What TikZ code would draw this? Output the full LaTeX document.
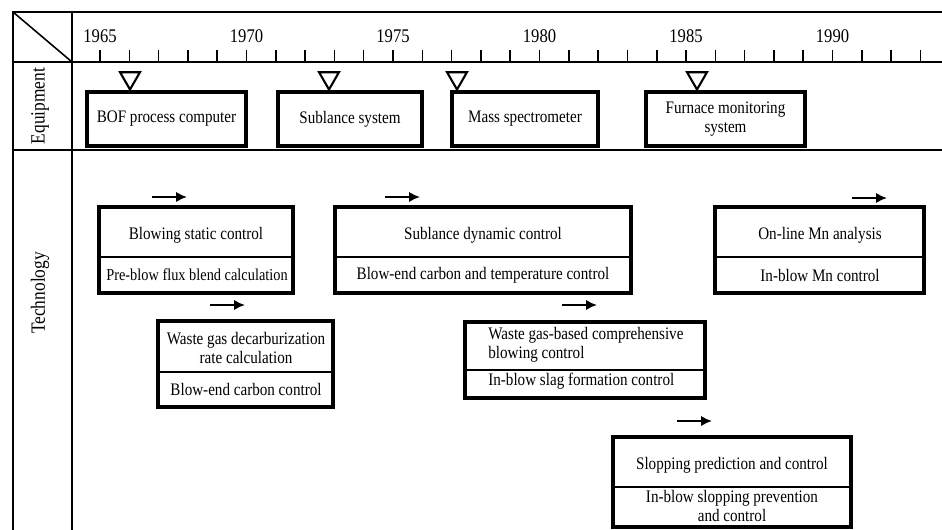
\documentclass[tikz,border=0pt]{standalone}
\usepackage{fontspec}
\setmainfont{Liberation Serif}[FakeStretch=0.86]
\usetikzlibrary{arrows.meta,positioning,shapes.geometric,fit,calc}
\tikzset{
  frame/.style={line width=0.9pt},
  equip/.style={draw,line width=2.1pt,minimum height=1.08cm,align=center,
    inner sep=0pt},
  techbox/.style={draw,line width=2.1pt,inner sep=0pt},
  techtext/.style={align=center,inner sep=0pt},
  divider/.style={line width=0.7pt},
  marker/.style={draw,line width=1.2pt,regular polygon,regular polygon sides=3,
    shape border rotate=180,minimum size=0.46cm,inner sep=0pt},
  yearlabel/.style={font=\fontsize{11}{12}\selectfont},
  sidelabel/.style={rotate=90,font=\fontsize{11.5}{12}\selectfont},
  arrow/.style={-{Latex[length=0.22cm,width=0.21cm]},line width=1.5pt}
}

\begin{document}
\begin{tikzpicture}[x=0.02cm,y=-0.02cm,font=\fontsize{10}{10.5}\selectfont]
  \useasboundingbox (0,0) rectangle (942,530);

  % table frame
  \draw[frame] (13,530) -- (13,12) -- (942,12);
  \draw[frame] (72,12) -- (72,530);
  \draw[frame] (13,62) -- (942,62);
  \draw[frame] (13,150) -- (942,150);
  \draw[frame] (13,12) -- (72,62);

  \node[sidelabel] (equiplabel) at (40,106) {Equipment};
  \node[sidelabel] (techlabel) at (40,293) {Technology};

  % time axis
  \foreach \yr in {1965,...,1993}
    \draw[frame] ({100+(\yr-1965)*29.3},50) -- ++(0,12);
  \foreach \yr in {1965,1970,...,1990}
    \node[yearlabel] (y\yr) at ({100+(\yr-1965)*29.3},36) {\yr};

  % equipment
  \node[marker] (bofmark) at (130,78) {};
  \node[marker] (sublmark) at (329,78) {};
  \node[marker] (massmark) at (457,78) {};
  \node[marker] (furnmark) at (697,78) {};

  \node[equip,minimum width=159*0.02cm] (bof) at (166.5,119) {BOF process computer};
  \node[equip,minimum width=144*0.02cm] (sublance) at (350,119) {Sublance system};
  \node[equip,minimum width=146*0.02cm] (massspec) at (525,119) {Mass spectrometer};
  \node[equip,minimum width=159*0.02cm] (furnace) at (725.5,119)
    {Furnace monitoring\\system};

  % technology
  \node[techbox,fit={(99,207) (293,293)}] (static) {};
  \node[techtext] (statictop) at (196,235) {Blowing static control};
  \node[techtext,font=\fontsize{9.5}{10}\selectfont] (staticbot) at (197,275)
    {Pre-blow flux blend calculation};
  \draw[divider] (static.west |- 0,257) -- (static.east |- 0,257);

  \node[techbox,fit={(335,207) (631,293)}] (dynamic) {};
  \node[techtext] (dynamictop) at (483,235) {Sublance dynamic control};
  \node[techtext] (dynamicbot) at (483,275) {Blow-end carbon and temperature control};
  \draw[divider] (dynamic.west |- 0,257) -- (dynamic.east |- 0,257);

  \node[techbox,fit={(715,207) (924,293)}] (mnana) {};
  \node[techtext] (mnanatop) at (820,235) {On-line Mn analysis};
  \node[techtext] (mnanabot) at (820,275) {In-blow Mn control};
  \draw[divider] (mnana.west |- 0,257) -- (mnana.east |- 0,257);

  \node[techbox,fit={(158,321) (333,407)}] (decarb) {};
  \node[techtext] (decarbtop) at (246,348) {Waste gas decarburization\\rate calculation};
  \node[techtext] (decarbbot) at (246,389) {Blow-end carbon control};
  \draw[divider] (decarb.west |- 0,372) -- (decarb.east |- 0,372);

  \node[techbox,fit={(465,322) (705,398)}] (slagform) {};
  \node[techtext,anchor=west,align=left] (slagformtop) at (488,345)
    {Waste gas-based comprehensive\\blowing control};
  \node[techtext,anchor=west] (slagformbot) at (488,381) {In-blow slag formation control};
  \draw[divider] (slagform.west |- 0,370) -- (slagform.east |- 0,370);

  \node[techbox,fit={(613,437) (851,527)}] (slopping) {};
  \node[techtext] (sloppingtop) at (732,465) {Slopping prediction and control};
  \node[techtext] (sloppingbot) at (732,506) {In-blow slopping prevention\\and control};
  \draw[divider] (slopping.west |- 0,487) -- (slopping.east |- 0,487);

  % start arrows
  \coordinate (staticgo) at (152,197);
  \coordinate (dynamicgo) at (385,197);
  \coordinate (mnanago) at (852,198);
  \coordinate (decarbgo) at (210,305);
  \coordinate (slagformgo) at (562,305);
  \coordinate (sloppinggo) at (677,421);
  \foreach \s in {staticgo,dynamicgo,mnanago,decarbgo,slagformgo,sloppinggo}
    \draw[arrow] (\s) -- ++(35,0);
\end{tikzpicture}
\end{document}
